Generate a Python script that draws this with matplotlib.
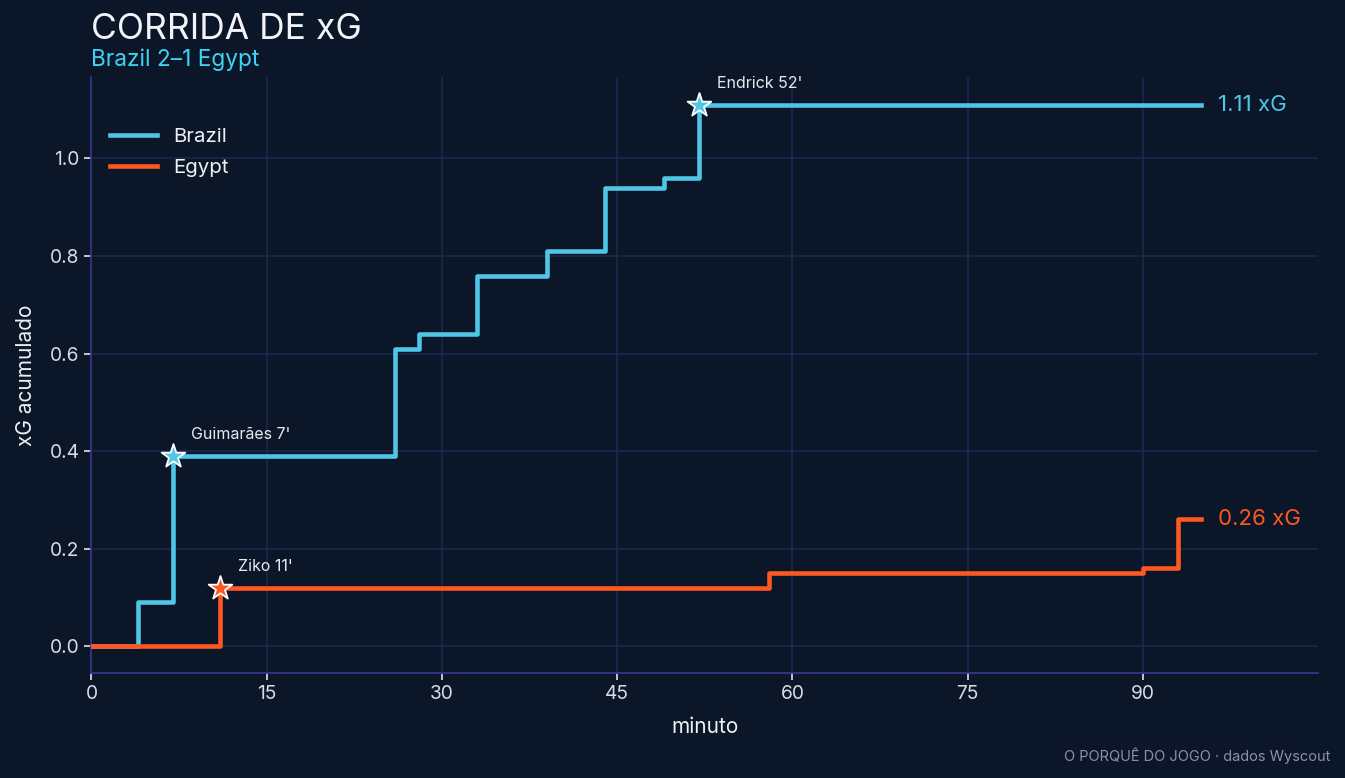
import numpy as np
import matplotlib.pyplot as plt

plt.rcParams['font.family'] = ['Inter', 'DejaVu Sans']

BG = '#0b1628'
BRA_COLOR = '#4fc6e6'
EGY_COLOR = '#ff5722'

# cumulative xG steps (minute, cumulative value)
bra_min = [0, 4, 7, 26, 28, 33, 39, 44, 49, 52, 95]
bra_xg = [0.0, 0.09, 0.39, 0.61, 0.64, 0.76, 0.81, 0.94, 0.96, 1.11, 1.11]
egy_min = [0, 11, 58, 90, 93, 95]
egy_xg = [0.0, 0.12, 0.15, 0.16, 0.26, 0.26]

# goals
goal_min = [7, 52, 11]
goal_xg = [0.39, 1.11, 0.12]
goal_label = ["Guimarães 7'", "Endrick 52'", "Ziko 11'"]
goal_color = [BRA_COLOR, BRA_COLOR, EGY_COLOR]

fig, ax = plt.subplots(figsize=(13.45, 7.78), dpi=100)
fig.patch.set_facecolor(BG)
ax.set_facecolor(BG)
fig.subplots_adjust(left=0.068, right=0.98, top=0.901, bottom=0.135)

ax.step(bra_min, bra_xg, where='post', color=BRA_COLOR, lw=3.3, label='Brazil', zorder=3)
ax.step(egy_min, egy_xg, where='post', color=EGY_COLOR, lw=3.3, label='Egypt', zorder=3)

for m, v, lab, c in zip(goal_min, goal_xg, goal_label, goal_color):
    ax.scatter(m, v, marker='*', s=320, color=c, edgecolors='white', linewidths=1.3, zorder=5)
    ax.annotate(lab, (m, v), xytext=(13, 10), textcoords='offset points',
                color='#e6e9ef', fontsize=11.5, va='bottom')

ax.text(bra_min[-1] + 1.4, bra_xg[-1], f'{bra_xg[-1]:.2f} xG', color=BRA_COLOR,
        fontsize=16, va='center')
ax.text(egy_min[-1] + 1.4, egy_xg[-1], f'{egy_xg[-1]:.2f} xG', color=EGY_COLOR,
        fontsize=16, va='center')

ax.set_xlim(0, 105)
ax.set_ylim(-0.055, 1.167)
ax.set_xticks([0, 15, 30, 45, 60, 75, 90])
ax.set_yticks([0.0, 0.2, 0.4, 0.6, 0.8, 1.0])
ax.yaxis.set_major_formatter(plt.FormatStrFormatter('%.1f'))
ax.grid(True, color='#1c2752', lw=1.1, zorder=0)
ax.set_axisbelow(True)

for s in ['top', 'right']:
    ax.spines[s].set_visible(False)
for s in ['left', 'bottom']:
    ax.spines[s].set_color('#34348a')
    ax.spines[s].set_linewidth(1.3)
ax.tick_params(colors='#d7dbe4', labelsize=13.8, length=5, width=1.3)
ax.tick_params(axis='both', color='#cfd3dc')

ax.set_xlabel('minuto', color='#eef0f4', fontsize=15, labelpad=10)
ax.set_ylabel('xG acumulado', color='#eef0f4', fontsize=15, labelpad=10)

leg = ax.legend(loc='upper left', frameon=False, fontsize=14.7, bbox_to_anchor=(0.0, 0.945),
                handlelength=2.3, handletextpad=0.8, labelspacing=0.6)
for t in leg.get_texts():
    t.set_color('#eef0f4')

fig.text(0.068, 0.962, 'CORRIDA DE xG', color='#f2f4f8', fontsize=25.5, va='center', ha='left')
fig.text(0.068, 0.923, 'Brazil 2–1 Egypt', color='#3fd2f2', fontsize=16.3, va='center', ha='left')
fig.text(0.989, 0.028, 'O PORQUÊ DO JOGO · dados Wyscout', color='#8a93a6', fontsize=10.5,
         ha='right', va='center')

fig.savefig('out.png', facecolor=BG)
